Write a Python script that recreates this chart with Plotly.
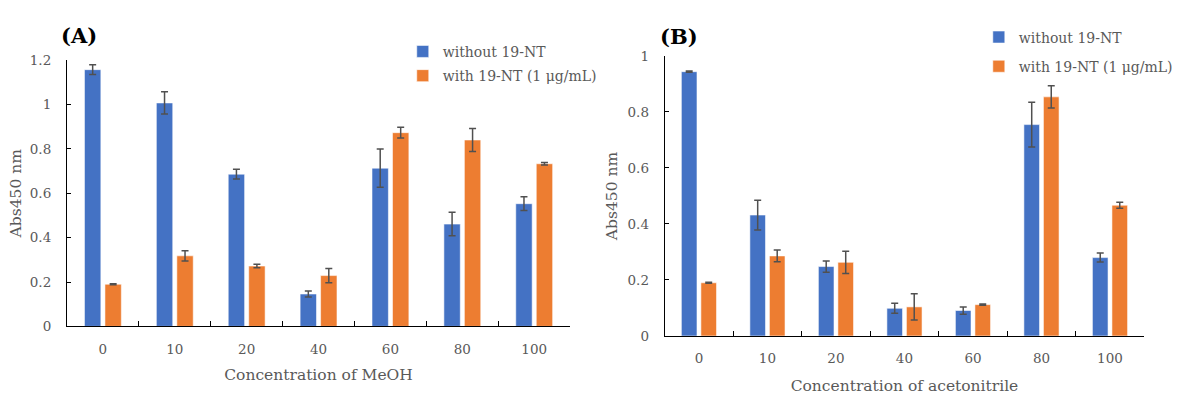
import plotly.graph_objects as go

categories = ["0", "10", "20", "40", "60", "80", "100"]

# Panel A (MeOH)
a_without = [1.157, 1.007, 0.686, 0.146, 0.713, 0.461, 0.553]
a_without_err = [0.022, 0.050, 0.022, 0.014, 0.086, 0.053, 0.031]
a_with = [0.190, 0.318, 0.272, 0.229, 0.873, 0.840, 0.733]
a_with_err = [0.002, 0.023, 0.008, 0.032, 0.024, 0.052, 0.006]

# Panel B (acetonitrile)
b_without = [0.944, 0.432, 0.248, 0.099, 0.091, 0.755, 0.280]
b_without_err = [0.002, 0.053, 0.020, 0.018, 0.013, 0.080, 0.016]
b_with = [0.190, 0.286, 0.263, 0.104, 0.112, 0.854, 0.467]
b_with_err = [0.002, 0.021, 0.040, 0.047, 0.002, 0.040, 0.011]

name_without = "without 19-NT"
name_with = "with 19-NT (1 μg/mL)"

BLUE = "#4472C4"
ORANGE = "#ED7D31"
GRAY = "#595959"
ERR = "#505050"
FONT = "DejaVu Serif"

W, H = 1178, 399


def err(vals):
    return dict(type="data", array=vals, visible=True, color=ERR, thickness=1.5, width=3.5)


fig = go.Figure()
line_style = dict(color="rgba(255,255,255,0.55)", width=1)

fig.add_trace(go.Bar(x=categories, y=a_without, error_y=err(a_without_err), name=name_without,
                     marker=dict(color=BLUE, line=line_style), xaxis="x", yaxis="y",
                     legend="legend", legendgroup="a1"))
fig.add_trace(go.Bar(x=categories, y=a_with, error_y=err(a_with_err), name=name_with,
                     marker=dict(color=ORANGE, line=line_style), xaxis="x", yaxis="y",
                     legend="legend", legendgroup="a2"))
fig.add_trace(go.Bar(x=categories, y=b_without, error_y=err(b_without_err), name=name_without,
                     marker=dict(color=BLUE, line=line_style), xaxis="x2", yaxis="y2",
                     legend="legend2", legendgroup="b1"))
fig.add_trace(go.Bar(x=categories, y=b_with, error_y=err(b_with_err), name=name_with,
                     marker=dict(color=ORANGE, line=line_style), xaxis="x2", yaxis="y2",
                     legend="legend2", legendgroup="b2"))


def px_x(p):
    return p / W


def px_y(p):
    return 1 - p / H


xcommon = dict(type="category", showline=True, linecolor="black", linewidth=1,
               ticks="inside", tickson="boundaries", ticklen=5, tickcolor="black",
               showgrid=False, zeroline=False, fixedrange=True,
               tickfont=dict(family=FONT, size=13.5, color=GRAY),
               ticklabelstandoff=10)
ycommon = dict(showline=True, linecolor="black", linewidth=1, ticks="inside", ticklen=4,
               tickcolor="black", showgrid=False, zeroline=False, dtick=0.2,
               tickfont=dict(family=FONT, size=13.5, color=GRAY), ticklabelstandoff=12)

fig.update_layout(
    width=W, height=H,
    margin=dict(l=0, r=0, t=0, b=0),
    paper_bgcolor="white", plot_bgcolor="white",
    barmode="group", bargap=0.43, bargroupgap=0.2,
    xaxis=dict(xcommon, domain=[px_x(68), px_x(579)], anchor="y", range=[-0.5, 6.5],
               title=dict(text="Concentration of MeOH", font=dict(family=FONT, size=15.5, color=GRAY), standoff=13)),
    yaxis=dict(ycommon, domain=[px_y(331.7), px_y(54.3)], anchor="x", range=[0, 1.2],
               title=dict(text="Abs450 nm", font=dict(family=FONT, size=15.5, color=GRAY), standoff=4)),
    xaxis2=dict(xcommon, domain=[px_x(675), px_x(1162)], anchor="y2", range=[-0.5, 6.5],
                title=dict(text="Concentration of acetonitrile", font=dict(family=FONT, size=15.5, color=GRAY), standoff=14)),
    yaxis2=dict(ycommon, domain=[px_y(341.7), px_y(50)], anchor="x2", range=[0, 1.0],
                title=dict(text="Abs450 nm", font=dict(family=FONT, size=15.5, color=GRAY), standoff=6)),
    legend=dict(x=px_x(409), y=px_y(29), xanchor="left", yanchor="top",
                bgcolor="rgba(0,0,0,0)", font=dict(family=FONT, size=14, color=GRAY),
                traceorder="grouped", tracegroupgap=3, itemwidth=30),
    legend2=dict(x=px_x(994), y=px_y(14), xanchor="left", yanchor="top",
                 bgcolor="rgba(0,0,0,0)", font=dict(family=FONT, size=14, color=GRAY),
                 traceorder="grouped", tracegroupgap=8, itemwidth=30),
    showlegend=True,
    annotations=[
        dict(text="<b>(A)</b>", x=px_x(80), y=px_y(29), xref="paper", yref="paper",
             xanchor="center", yanchor="middle", showarrow=False,
             font=dict(family=FONT, size=21, color="black")),
        dict(text="<b>(B)</b>", x=px_x(690), y=px_y(30), xref="paper", yref="paper",
             xanchor="center", yanchor="middle", showarrow=False,
             font=dict(family=FONT, size=21, color="black")),
    ],
)

fig.write_html("out.html")
